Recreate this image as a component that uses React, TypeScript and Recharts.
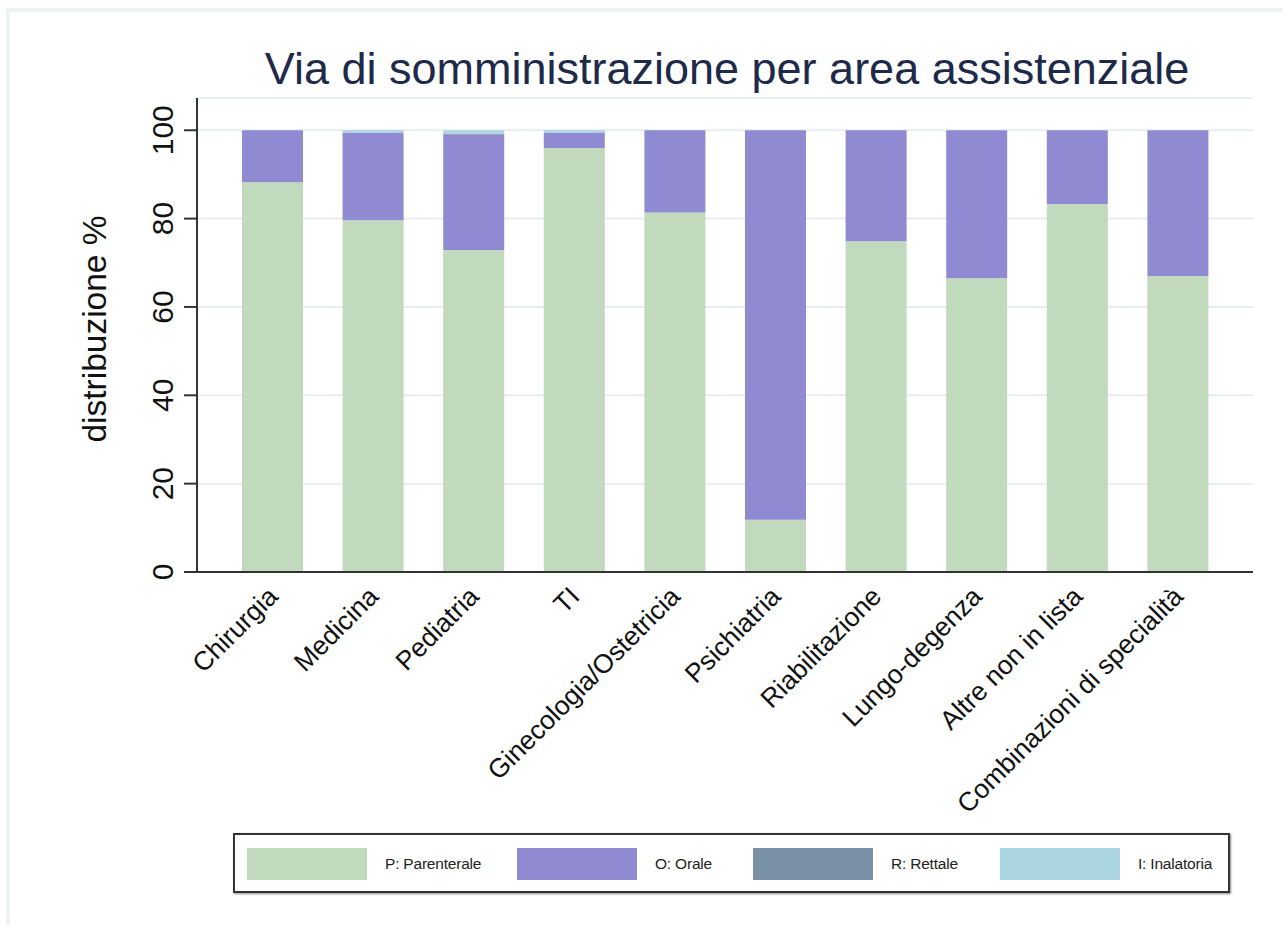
import React from 'react';
import { BarChart, Bar, XAxis, YAxis, CartesianGrid } from 'recharts';

const categories = [
  'Chirurgia', 'Medicina', 'Pediatria', 'TI', 'Ginecologia/Ostetricia',
  'Psichiatria', 'Riabilitazione', 'Lungo-degenza', 'Altre non in lista', 'Combinazioni di specialità',
];
const parenterale = [88.2, 79.6, 72.9, 96.0, 81.4, 11.8, 74.9, 66.5, 83.3, 67.0];
const orale = [11.8, 19.9, 26.1, 3.5, 18.6, 88.2, 25.1, 33.5, 16.7, 33.0];
const rettale = [0, 0, 0.2, 0, 0, 0, 0, 0, 0, 0];
const inalatoria = [0, 0.5, 0.8, 0.5, 0, 0, 0, 0, 0, 0];
const yTicks = [0, 20, 40, 60, 80, 100];

const series = [
  { key: 'P', label: 'P: Parenterale', color: '#c1d9bd' },
  { key: 'O', label: 'O: Orale', color: '#8f8ad1' },
  { key: 'R', label: 'R: Rettale', color: '#788fa6' },
  { key: 'I', label: 'I: Inalatoria', color: '#acd5e2' },
];

const data = categories.map((name, i) => ({
  name,
  P: parenterale[i],
  O: orale[i],
  R: rettale[i],
  I: inalatoria[i],
}));

const FONT = '"Liberation Sans", Arial, sans-serif';

const XTick = (props: any) => {
  const { x, y, payload } = props;
  return (
    <g transform={`translate(${x + 7},${y + 26})`}>
      <text transform="rotate(-45)" textAnchor="end" fontSize={26.5} fill="#111" fontFamily={FONT}>
        {payload.value}
      </text>
    </g>
  );
};

const YTick = (props: any) => {
  const { y, payload } = props;
  return (
    <g transform={`translate(162,${y})`}>
      <text transform="rotate(-90)" textAnchor="middle" dy="0.36em" fontSize={30} fill="#111" fontFamily={FONT}>
        {payload.value}
      </text>
    </g>
  );
};

const legendLeft = [12, 282, 518, 765];

export default function App() {
  return (
    <div style={{ position: 'absolute', left: 0, top: 0, width: 1283, height: 935, background: '#fff', fontFamily: FONT }}>
      <div style={{ position: 'absolute', left: 6, top: 8, right: 0, bottom: 10, borderTop: '4px solid #eef3f3', borderLeft: '4px solid #eef3f3' }} />
      <BarChart
        width={1283}
        height={935}
        data={data}
        margin={{ top: 98, right: 30, left: 0, bottom: 0 }}
        style={{ position: 'absolute', left: 0, top: 0 }}
      >
        <text x={727} y={84} textAnchor="middle" fontSize={45} fill="#1e2a4a" fontFamily={FONT}>
          Via di somministrazione per area assistenziale
        </text>
        <CartesianGrid vertical={false} stroke="#e6eef1" strokeWidth={2} />
        <XAxis
          dataKey="name"
          interval={0}
          height={363}
          tickLine={false}
          tickSize={0}
          tickMargin={0}
          padding={{ left: 25, right: 25 }}
          axisLine={{ stroke: '#333', strokeWidth: 2 }}
          tick={<XTick />}
        />
        <YAxis
          width={197}
          domain={[0, 107.3]}
          ticks={yTicks}
          allowDataOverflow
          tickSize={13}
          tickLine={{ stroke: '#333', strokeWidth: 2 }}
          axisLine={{ stroke: '#333', strokeWidth: 2 }}
          tick={<YTick />}
          label={{
            content: () => (
              <text
                transform="translate(94,329) rotate(-90)"
                textAnchor="middle"
                dy="0.36em"
                fontSize={33.5}
                fill="#111"
                fontFamily={FONT}
              >
                distribuzione %
              </text>
            ),
          }}
        />
        {series.map((s) => (
          <Bar key={s.key} dataKey={s.key} stackId="a" fill={s.color} barSize={61} isAnimationActive={false} />
        ))}
      </BarChart>
      <div
        style={{
          position: 'absolute', left: 233, top: 833, width: 993, height: 56,
          border: '2px solid #333', boxShadow: '1px 1px 2px #888', background: '#fff',
        }}
      >
        {series.map((s, i) => (
          <div key={s.key} style={{ position: 'absolute', left: legendLeft[i], top: 13, display: 'flex', alignItems: 'center' }}>
            <div style={{ width: 120, height: 32, background: s.color }} />
            <span style={{ marginLeft: 18, fontSize: 15.5, color: '#222', letterSpacing: -0.2 }}>{s.label}</span>
          </div>
        ))}
      </div>
    </div>
  );
}
